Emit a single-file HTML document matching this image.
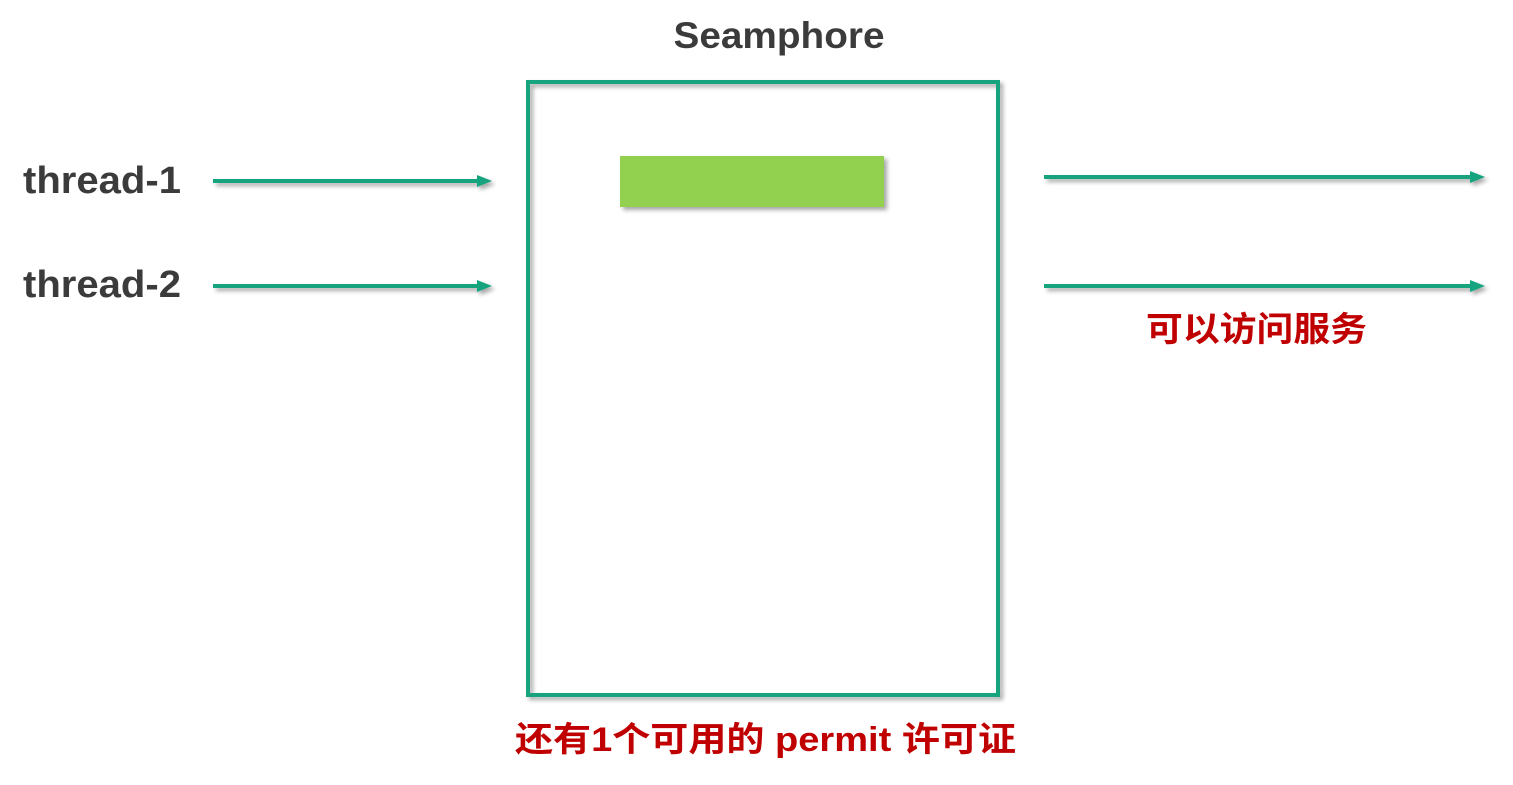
<!DOCTYPE html>
<html><head><meta charset="utf-8"><style>
html,body{margin:0;padding:0;background:#fff;width:1513px;height:785px;overflow:hidden}
svg text{font-family:"Liberation Sans","Noto Sans CJK SC",sans-serif;font-weight:bold}
</style></head><body>
<svg width="1513" height="785" viewBox="0 0 1513 785" xmlns="http://www.w3.org/2000/svg">
<defs>
<filter id="sh" x="-10%" y="-10%" width="130%" height="130%"><feDropShadow dx="3" dy="3" stdDeviation="2" flood-color="#000" flood-opacity="0.35"/></filter>
</defs>
<text x="779" y="48" font-size="37" fill="#3b3b3b" text-anchor="middle" textLength="211" lengthAdjust="spacingAndGlyphs">Seamphore</text>
<rect x="528" y="82" width="470" height="613" fill="none" stroke="#16a47e" stroke-width="4" filter="url(#sh)"/>
<rect x="620" y="156" width="264" height="51" fill="#92d050" filter="url(#sh)"/>
<text x="23" y="193" font-size="38" fill="#3b3b3b" textLength="158" lengthAdjust="spacingAndGlyphs">thread-1</text>
<text x="23" y="297" font-size="38" fill="#3b3b3b" textLength="158" lengthAdjust="spacingAndGlyphs">thread-2</text>
<g filter="url(#sh)" fill="#16a47e" stroke="#16a47e" stroke-width="4">
<line x1="213" y1="181" x2="480" y2="181"/>
<path d="M477,175 L492,181 L477,187 z" stroke="none"/>
<line x1="213" y1="286" x2="480" y2="286"/>
<path d="M477,280 L492,286 L477,292 z" stroke="none"/>
<line x1="1044" y1="177" x2="1473" y2="177"/>
<path d="M1470,171 L1485,177 L1470,183 z" stroke="none"/>
<line x1="1044" y1="286" x2="1473" y2="286"/>
<path d="M1470,280 L1485,286 L1470,292 z" stroke="none"/>
</g>
<text x="1146" y="341" font-size="34" fill="#c00000" textLength="221" lengthAdjust="spacingAndGlyphs">可以访问服务</text>
<text x="515" y="751" font-size="34" fill="#c00000" textLength="501" lengthAdjust="spacingAndGlyphs">还有1个可用的 permit 许可证</text>
</svg>
</body></html>
